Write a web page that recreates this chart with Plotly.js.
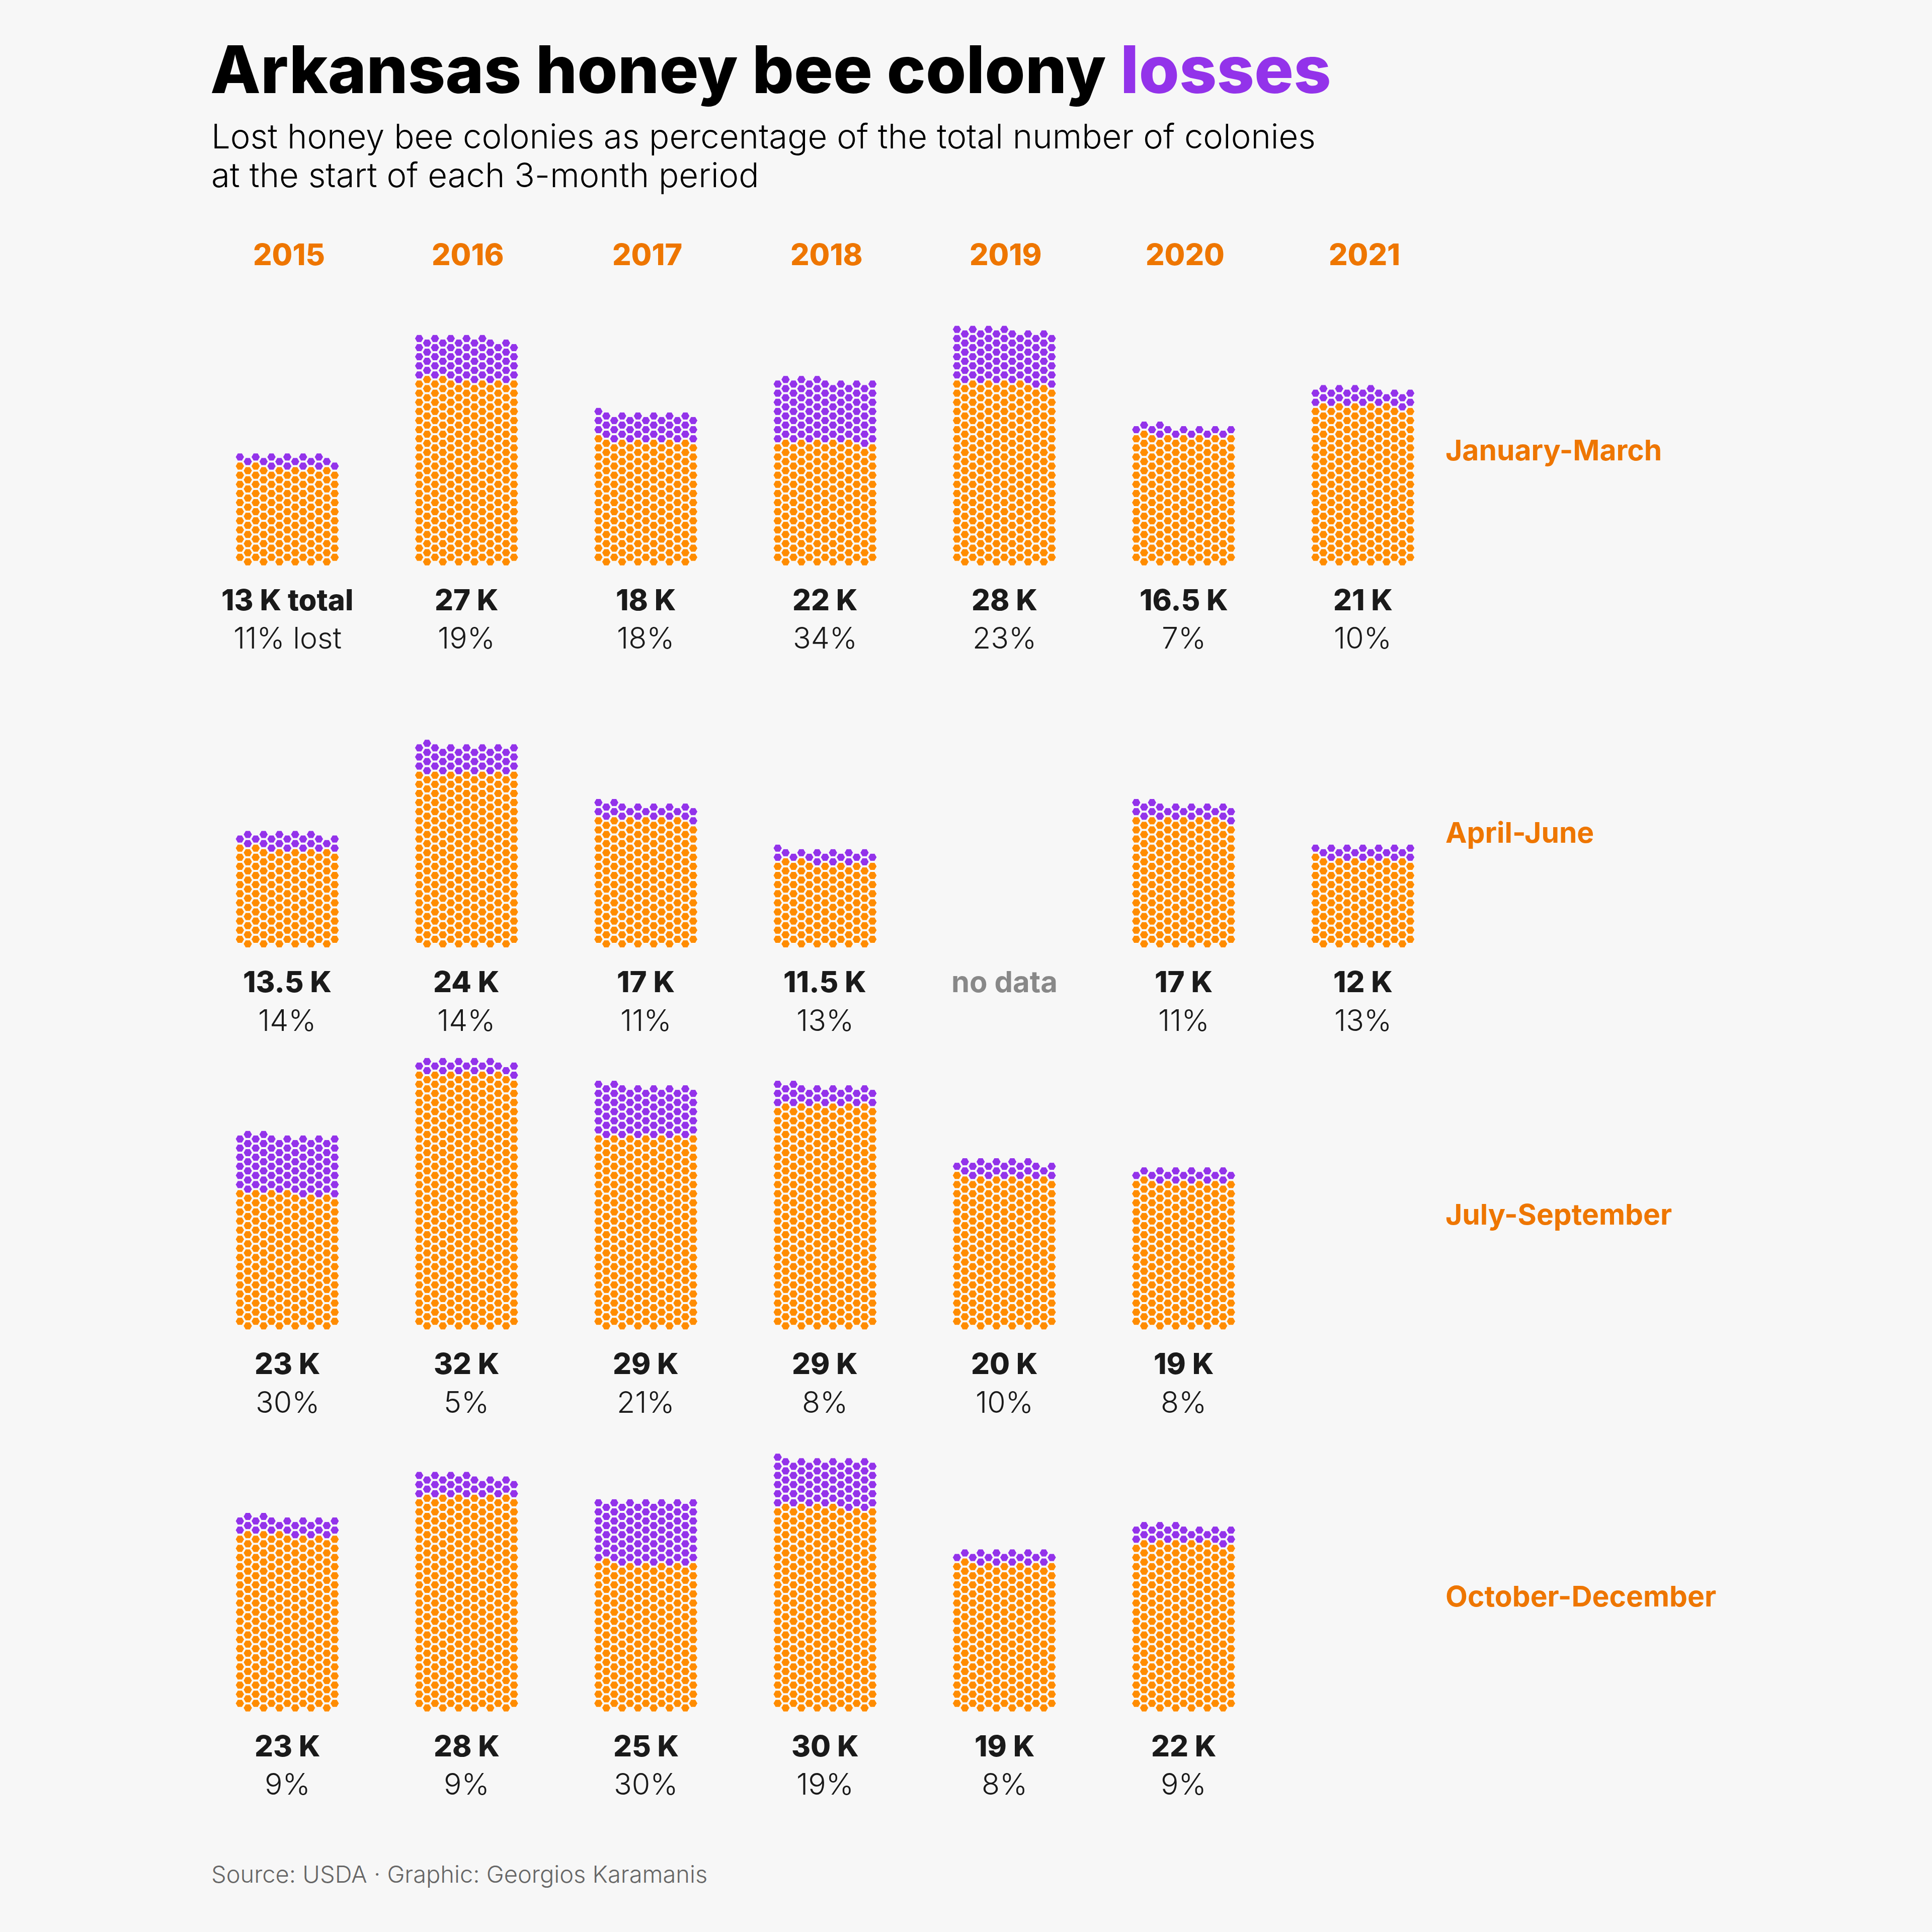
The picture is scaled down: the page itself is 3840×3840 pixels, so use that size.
<!DOCTYPE html>
<html><head><meta charset="utf-8">
<script src="https://cdn.plot.ly/plotly-3.0.1.min.js"></script>
<style>html,body{margin:0;padding:0;background:#f7f7f7}</style>
</head><body><div id="chart" style="width:3840px;height:3840px"></div>
<script>
// ---- data ----
const years = ['2015', '2016', '2017', '2018', '2019', '2020', '2021'];
const quarters = ['January-March', 'April-June', 'July-September', 'October-December'];
const totalK_JanMar = [13, 27, 18, 22, 28, 16.5, 21];
const lostPct_JanMar = [11, 19, 18, 34, 23, 7, 10];
const totalK_AprJun = [13.5, 24, 17, 11.5, null, 17, 12];
const lostPct_AprJun = [14, 14, 11, 13, null, 11, 13];
const totalK_JulSep = [23, 32, 29, 29, 20, 19, null];
const lostPct_JulSep = [30, 5, 21, 8, 10, 8, null];
const totalK_OctDec = [23, 28, 25, 30, 19, 22, null];
const lostPct_OctDec = [9, 9, 30, 19, 8, 9, null];
const noDataCell = {quarter: 1, year: 4};

const totals = [totalK_JanMar, totalK_AprJun, totalK_JulSep, totalK_OctDec];
const pcts = [lostPct_JanMar, lostPct_AprJun, lostPct_JulSep, lostPct_OctDec];

// ---- styling / layout constants ----
const COLONIES_PER_HEX = 83.7;
const NCOL = 13;
const COL_DX = 15.7, HALF_DY = 9.06;
const X0 = 571, CELL_DX = 356.3;
const YB0 = 1116.7, ROW_DY = 759.3;
const ORANGE = '#FF8C00', PURPLE = '#9333EA', ORANGE_TXT = '#EE7600';
const FONT = 'Inter';

const ox = [], oy = [], px = [], py = [];
const ann = [];

function hexPositions(n, cx, yb) {
  const pos = [];
  let k = 0;
  while (pos.length < n) {
    const parity = (k % 2 === 0) ? 1 : 0; // half-row 0: odd columns
    for (let c = parity; c < NCOL && pos.length < n; c += 2) {
      pos.push([cx + (c - 6) * COL_DX, yb - k * HALF_DY]);
    }
    k++;
  }
  return pos;
}

quarters.forEach((qn, q) => {
  const yb = YB0 + q * ROW_DY;
  ann.push({x: 2871, y: yb - 222, text: qn, xanchor: 'left', yanchor: 'middle', showarrow: false,
    font: {family: FONT, size: 57, weight: 700, color: ORANGE_TXT}});
  years.forEach((yr, j) => {
    const cx = X0 + j * CELL_DX;
    const t = totals[q][j], p = pcts[q][j];
    if (t === null) {
      if (q === noDataCell.quarter && j === noDataCell.year) {
        ann.push({x: cx, y: yb + 75, text: 'no data', xanchor: 'center', yanchor: 'middle', showarrow: false,
          font: {family: FONT, size: 58, weight: 700, color: '#888888'}});
      }
      return;
    }
    const n = Math.round(t * 1000 / COLONIES_PER_HEX);
    const lost = Math.round(n * p / 100);
    const pos = hexPositions(n, cx, yb);
    pos.forEach((pt, i) => {
      if (i >= n - lost) { px.push(pt[0]); py.push(pt[1]); }
      else { ox.push(pt[0]); oy.push(pt[1]); }
    });
    const first = (q === 0 && j === 0);
    ann.push({x: cx, y: yb + 75, text: t + ' K' + (first ? ' total' : ''), xanchor: 'center', yanchor: 'middle', showarrow: false,
      font: {family: FONT, size: 58, weight: 800, color: '#1a1a1a'}});
    ann.push({x: cx, y: yb + 151, text: p + '%' + (first ? ' lost' : ''), xanchor: 'center', yanchor: 'middle', showarrow: false,
      font: {family: FONT, size: 59, weight: 300, color: '#1a1a1a'}});
  });
});

years.forEach((yr, j) => {
  ann.push({x: X0 + 3 + j * CELL_DX, y: 505, text: yr, xanchor: 'center', yanchor: 'middle', showarrow: false,
    font: {family: FONT, size: 59, weight: 800, color: ORANGE_TXT}});
});

ann.push({x: 416, y: 137, text: 'Arkansas honey bee colony <span style="color:' + PURPLE + '">losses</span>',
  xanchor: 'left', yanchor: 'middle', showarrow: false,
  font: {family: FONT, size: 130, weight: 800, color: '#000000'}});
ann.push({x: 418, y: 270, text: 'Lost honey bee colonies as percentage of the total number of colonies',
  xanchor: 'left', yanchor: 'middle', showarrow: false,
  font: {family: FONT, size: 67, weight: 300, color: '#000000'}});
ann.push({x: 418, y: 347, text: 'at the start of each 3-month period',
  xanchor: 'left', yanchor: 'middle', showarrow: false,
  font: {family: FONT, size: 67, weight: 300, color: '#000000'}});
ann.push({x: 418, y: 3724, text: 'Source: USDA · Graphic: Georgios Karamanis',
  xanchor: 'left', yanchor: 'middle', showarrow: false,
  font: {family: FONT, size: 47, weight: 300, color: '#666666'}});

const marker = (col) => ({symbol: 'hexagon2', size: 17.5, color: col, line: {width: 1, color: '#ffffff'}});
const data = [
  {type: 'scatter', mode: 'markers', x: ox, y: oy, marker: marker(ORANGE), hoverinfo: 'skip', showlegend: false},
  {type: 'scatter', mode: 'markers', x: px, y: py, marker: marker(PURPLE), hoverinfo: 'skip', showlegend: false}
];
const layout = {
  width: 3840, height: 3840,
  margin: {l: 0, r: 0, t: 0, b: 0},
  paper_bgcolor: '#f7f7f7', plot_bgcolor: '#f7f7f7',
  xaxis: {range: [0, 3840], visible: false, fixedrange: true},
  yaxis: {range: [3840, 0], visible: false, fixedrange: true},
  annotations: ann, showlegend: false
};
Plotly.newPlot('chart', data, layout, {staticPlot: true});
</script></body></html>
